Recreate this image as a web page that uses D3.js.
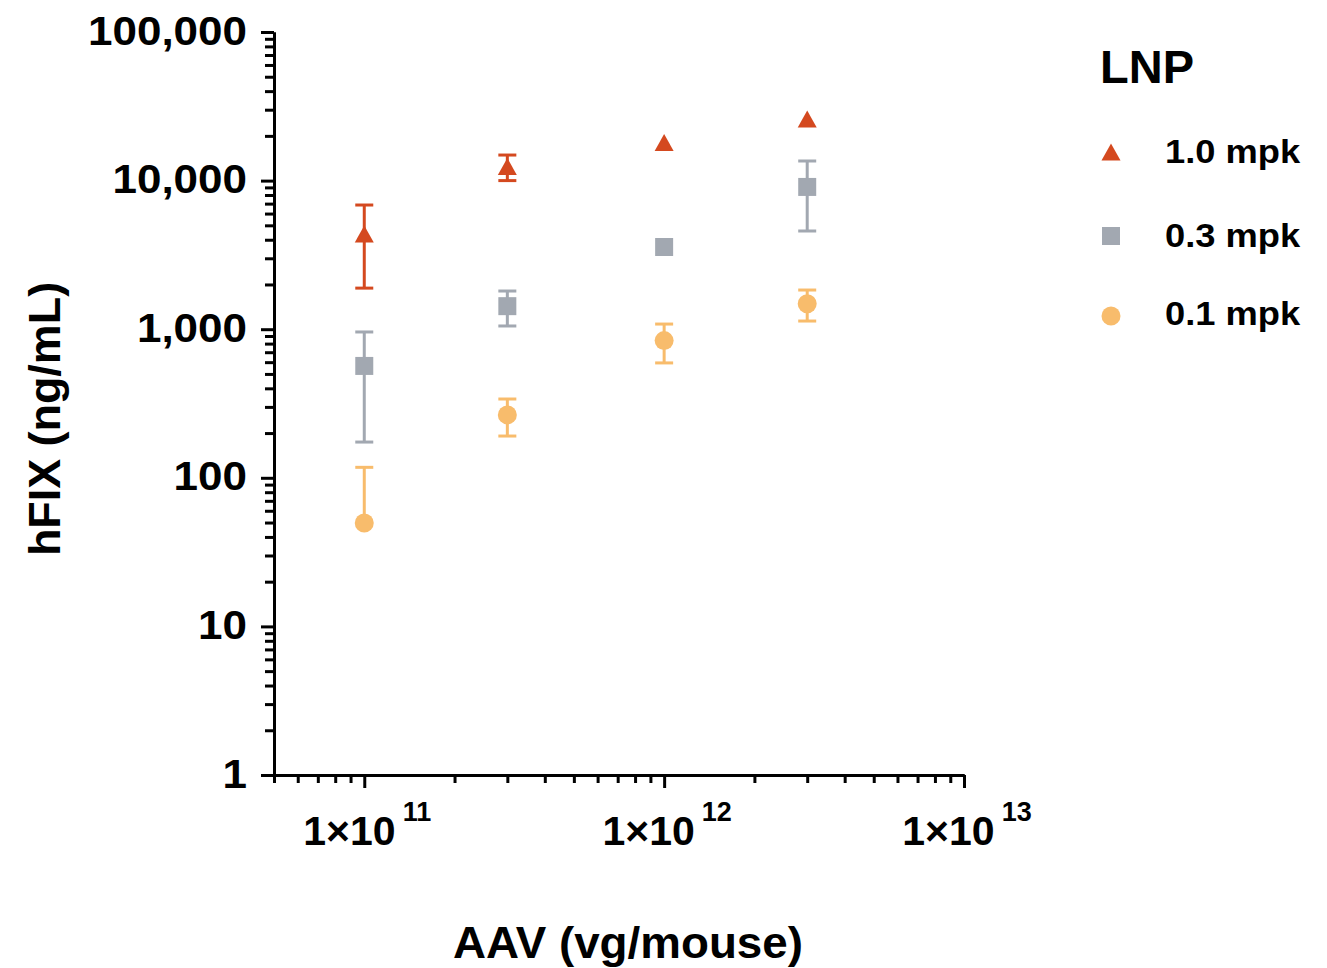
<!DOCTYPE html>
<html><head><meta charset="utf-8">
<script src="https://cdn.jsdelivr.net/npm/d3@7"></script>
<style>
body{margin:0;background:#fff}
text{font-family:"Liberation Sans",Arial,Helvetica,sans-serif;font-weight:bold;fill:#000}
</style>
</head><body>
<svg id="c" width="1327" height="968"></svg>
<script>
// ---- data ----
const doses = [1e11, 3e11, 1e12, 3e12];
const seriesNames = ["1.0 mpk", "0.3 mpk", "0.1 mpk"];
const mean10 = [4370, 12430, 18040, 25990];
const sd10   = [2480, 2430, 0, 0];
const mean03 = [566, 1429, 3574, 9065];
const sd03   = [392, 378, 0, 4485];
const mean01 = [49.6, 265, 838, 1485];
const sd01   = [68, 74, 245, 350];
const yTickValues = [1, 10, 100, 1000, 10000, 100000];
const xTickValues = [1e11, 1e12, 1e13];
const xTickExponents = ["11", "12", "13"];
const legendTitle = "LNP";
const xTitle = "AAV (vg/mouse)";
const yTitle = "hFIX (ng/mL)";

const colors = ["#D4491F", "#A2A8B1", "#F8BC6C"];
const series = [
  {name: seriesNames[0], mean: mean10, sd: sd10, color: colors[0], shape: "tri"},
  {name: seriesNames[1], mean: mean03, sd: sd03, color: colors[1], shape: "sq"},
  {name: seriesNames[2], mean: mean01, sd: sd01, color: colors[2], shape: "circ"}
];

const svg = d3.select("#c");
const x = d3.scaleLog().domain([5e10, 1e13]).range([274, 964]);
const y = d3.scaleLog().domain([1, 1e5]).range([775, 32]);
const SX = 1.1;

// minor ticks
const yMinor = [];
for (let e = 0; e < 5; e++) for (let k = 2; k <= 9; k++) yMinor.push(k * Math.pow(10, e));
const xMinor = [5e10,6e10,7e10,8e10,9e10];
for (let e = 11; e < 13; e++) for (let k = 2; k <= 9; k++) xMinor.push(k * Math.pow(10, e));

const AX_W = 3;
// y axis
const gyMinor = svg.append("g").attr("transform", "translate(274,0)")
  .call(d3.axisLeft(y).tickValues(yMinor).tickSize(9).tickSizeOuter(0).tickFormat(""));
const gy = svg.append("g").attr("transform", "translate(274,0)")
  .call(d3.axisLeft(y).tickValues(yTickValues).tickSize(13).tickSizeOuter(0)
    .tickPadding(0).tickFormat(d3.format(",")));
[gy, gyMinor].forEach(g => {
  g.selectAll("path.domain").attr("stroke", "#000").attr("stroke-width", AX_W);
  g.selectAll("line").attr("stroke", "#000").attr("stroke-width", AX_W);
});
gy.selectAll("text").attr("x", -27 / SX).attr("dy", "0.3em")
  .attr("transform", `scale(${SX},1)`)
  .style("font-size", "40px");

// x axis
const gxMinor = svg.append("g").attr("transform", "translate(0,775)")
  .call(d3.axisBottom(x).tickValues(xMinor).tickSize(8).tickSizeOuter(0).tickFormat(""));
const gx = svg.append("g").attr("transform", "translate(0,775)")
  .call(d3.axisBottom(x).tickValues(xTickValues).tickSize(13).tickSizeOuter(0).tickFormat(""));
[gx, gxMinor].forEach(g => {
  g.selectAll("path.domain").attr("stroke", "#000").attr("stroke-width", AX_W);
  g.selectAll("line").attr("stroke", "#000").attr("stroke-width", AX_W);
});
svg.selectAll("g").attr("font-family", null).attr("font-size", null);

// x tick labels with superscripts
xTickValues.forEach((v, i) => {
  const t = svg.append("text").attr("x", x(v) + 3).attr("y", 845)
    .attr("text-anchor", "middle").style("font-size", "41px");
  t.append("tspan").text("1×10");
  t.append("tspan").attr("dx", 7).attr("dy", -24).style("font-size", "27px").text(xTickExponents[i]);
});

// titles
svg.append("text").attr("transform", "translate(628,958) scale(1.04,1)").attr("text-anchor", "middle")
  .style("font-size", "44px").text(xTitle);
svg.append("text").attr("transform", "translate(60,419) rotate(-90) scale(1.02,1)").attr("text-anchor", "middle")
  .style("font-size", "44px").text(yTitle);

// markers
const triType = {draw(ctx, size) {
  const w = 19, h = 17;
  ctx.moveTo(0, -h / 2); ctx.lineTo(w / 2, h / 2); ctx.lineTo(-w / 2, h / 2); ctx.closePath();
}};
const symbolFor = s => s === "tri" ? d3.symbol().type(triType)
  : s === "sq" ? d3.symbol().type(d3.symbolSquare).size(324)
  : d3.symbol().type(d3.symbolCircle).size(Math.PI * 9.5 * 9.5);

const CAP = 9;
series.forEach(s => {
  const g = svg.append("g");
  doses.forEach((d, i) => {
    const m = s.mean[i], e = s.sd[i];
    if (e > 0) {
      const cx = x(d);
      const hi = y(m + e);
      const lo = (m - e) > 0 ? y(m - e) : y(m);
      g.append("line").attr("x1", cx).attr("x2", cx).attr("y1", hi).attr("y2", lo)
        .attr("stroke", s.color).attr("stroke-width", 3);
      g.append("line").attr("x1", cx - CAP).attr("x2", cx + CAP).attr("y1", hi).attr("y2", hi)
        .attr("stroke", s.color).attr("stroke-width", 3);
      if ((m - e) > 0)
        g.append("line").attr("x1", cx - CAP).attr("x2", cx + CAP).attr("y1", lo).attr("y2", lo)
          .attr("stroke", s.color).attr("stroke-width", 3);
    }
  });
  g.selectAll("path.pt").data(doses.map((d, i) => [d, s.mean[i]])).join("path")
    .attr("class", "pt")
    .attr("transform", p => `translate(${x(p[0])},${y(p[1])})`)
    .attr("d", symbolFor(s.shape)()).attr("fill", s.color);
});

// legend
svg.append("text").attr("x", 1100).attr("y", 83).style("font-size", "47px").text(legendTitle);
const legY = [152, 236, 316];
const legBase = [163, 247, 325];
series.forEach((s, i) => {
  svg.append("path").attr("transform", `translate(1111,${legY[i]})`)
    .attr("d", symbolFor(s.shape)()).attr("fill", s.color);
  svg.append("text").attr("transform", `translate(1165,${legBase[i]}) scale(${SX},1)`)
    .style("font-size", "33px").text(s.name);
});
</script>
</body></html>
